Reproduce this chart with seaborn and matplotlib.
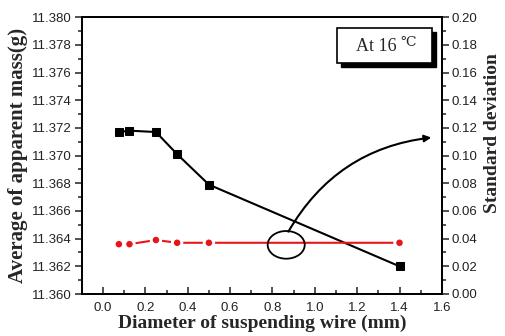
import matplotlib
matplotlib.use("Agg")
import matplotlib.pyplot as plt
import seaborn as sns
import pandas as pd
from matplotlib.patches import Ellipse, Rectangle
from matplotlib.ticker import MultipleLocator

diameter = [0.075, 0.125, 0.25, 0.35, 0.5, 1.4]
avg_mass = [11.3717, 11.3718, 11.3717, 11.3701, 11.3679, 11.3620]
std_dev = [0.036, 0.036, 0.039, 0.037, 0.037, 0.037]

df = pd.DataFrame({"d": diameter, "m": avg_mass, "s": std_dev})

sns.set_style("ticks")
plt.rcParams["font.family"] = ["Liberation Sans", "DejaVu Sans"]

fig = plt.figure(figsize=(5.05, 3.36), dpi=100)
ax = fig.add_axes([0.162, 0.125, 0.713, 0.824])
ax2 = ax.twinx()

sns.lineplot(data=df, x="d", y="m", ax=ax, color="black", lw=1.5,
             marker="s", markersize=6, markeredgecolor="black")

sns.lineplot(data=df, x="d", y="s", ax=ax2, color="#e8141a", lw=1.5)
sns.scatterplot(data=df, x="d", y="s", ax=ax2, color="white", s=80,
                edgecolor="none", zorder=3)
sns.scatterplot(data=df, x="d", y="s", ax=ax2, color="#e8141a", s=22,
                edgecolor="none", zorder=4)

ax.set_xlim(-0.1, 1.6)
ax.set_ylim(11.360, 11.380)
ax2.set_ylim(0.0, 0.20)

ax.xaxis.set_major_locator(MultipleLocator(0.2))
ax.xaxis.set_minor_locator(MultipleLocator(0.1))
ax.yaxis.set_major_locator(MultipleLocator(0.002))
ax.yaxis.set_minor_locator(MultipleLocator(0.001))
ax2.yaxis.set_major_locator(MultipleLocator(0.02))
ax2.yaxis.set_minor_locator(MultipleLocator(0.01))
ax.yaxis.set_major_formatter(matplotlib.ticker.FormatStrFormatter("%.3f"))
ax2.yaxis.set_major_formatter(matplotlib.ticker.FormatStrFormatter("%.2f"))
ax.xaxis.set_major_formatter(matplotlib.ticker.FormatStrFormatter("%.1f"))

ax.tick_params(axis="x", which="major", direction="in", length=5, width=1.2, labelsize=9.5, pad=6)
ax.tick_params(axis="x", which="minor", direction="in", length=3, width=1.2)
ax.tick_params(axis="y", which="major", direction="out", length=5, width=1.2, labelsize=9.5, pad=2)
ax.tick_params(axis="y", which="minor", direction="out", length=3, width=1.2)
ax2.tick_params(axis="y", which="major", direction="out", length=5, width=1.2, labelsize=9.5, pad=2)
ax2.tick_params(axis="y", which="minor", direction="out", length=3, width=1.2)
for a in (ax, ax2):
    for sp in a.spines.values():
        sp.set_visible(True)
        sp.set_linewidth(1.3)
        sp.set_color("black")
    a.tick_params(colors="#333333", which="both")
    for lbl in a.get_yticklabels() + a.get_xticklabels():
        lbl.set_color("#222222")

serif = ["Liberation Serif", "DejaVu Serif"]
ax.set_xlabel("Diameter of suspending wire (mm)", family=serif, fontweight="bold",
              fontsize=14, labelpad=0)
ax.set_ylabel("Average of apparent mass(g)", family=serif, fontweight="bold",
              fontsize=15, labelpad=3)
ax2.set_ylabel("Standard deviation", family=serif, fontweight="bold",
               fontsize=14)
ax2.yaxis.set_label_coords(1.117, 0.58)

# Ellipse annotation and curved arrow
ell = Ellipse((0.865, 0.0355), width=0.175, height=0.02, fill=False,
              edgecolor="black", lw=1.3, zorder=5)
ax2.add_patch(ell)
ax2.annotate("", xy=(1.55, 0.113), xytext=(0.875, 0.045),
             arrowprops=dict(arrowstyle="-|>", color="black", lw=1.5,
                             connectionstyle="arc3,rad=-0.25",
                             mutation_scale=10, shrinkA=0, shrinkB=0))

# Text box with shadow
fig.add_artist(Rectangle((0.675, 0.800), 0.188, 0.104, transform=fig.transFigure,
                         facecolor="black", edgecolor="black", zorder=10))
fig.add_artist(Rectangle((0.667, 0.8125), 0.188, 0.104, transform=fig.transFigure,
                         facecolor="white", edgecolor="black", lw=1.2, zorder=11))
fig.text(0.745, 0.862, "At 16", family=serif, fontsize=13,
         ha="center", va="center", zorder=12)
fig.text(0.808, 0.875, "\u2103", family=serif, fontsize=10,
         ha="center", va="center", zorder=12)

fig.savefig("out.png", dpi=100)
